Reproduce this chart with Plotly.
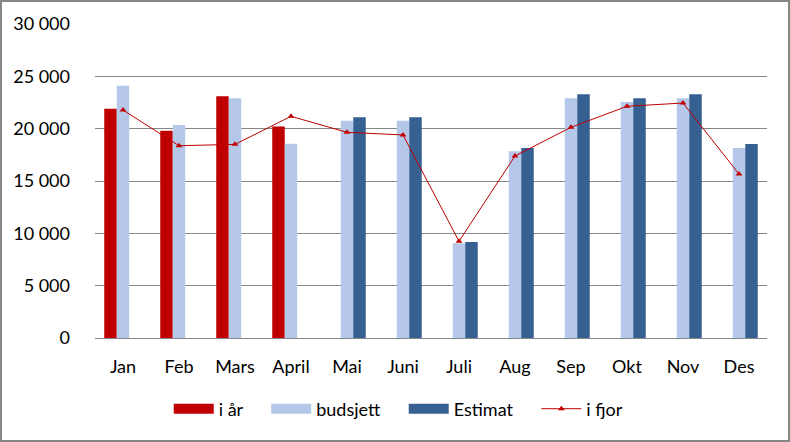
import plotly.graph_objects as go

months = ["Jan", "Feb", "Mars", "April", "Mai", "Juni", "Juli", "Aug", "Sep", "Okt", "Nov", "Des"]
i_aar = [21900, 19800, 23100, 20200, None, None, None, None, None, None, None, None]
budsjett = [24100, 20350, 22900, 18550, 20750, 20750, 9050, 17850, 22900, 22550, 22900, 18150]
estimat = [None, None, None, None, 21100, 21100, 9170, 18150, 23300, 22900, 23300, 18530]
i_fjor = [21780, 18370, 18500, 21180, 19650, 19400, 9240, 17390, 20130, 22140, 22450, 15670]
y_ticks = [0, 5000, 10000, 15000, 20000, 25000, 30000]
y_tick_text = ["0", "5 000", "10 000", "15 000", "20 000", "25 000", "30 000"]

RED = "#C00000"
LIGHT = "#B5C8EA"
DARK = "#376092"

W, H = 790, 442
ml, mr, mt, mb = 95, 23, 24, 104
pw, ph = W - ml - mr, H - mt - mb

fig = go.Figure()
fig.add_trace(go.Bar(name="i år", x=months, y=i_aar, marker=dict(color=RED, line=dict(width=0)),
                     showlegend=False))
fig.add_trace(go.Bar(name="budsjett", x=months, y=budsjett, marker=dict(color=LIGHT, line=dict(width=0)),
                     showlegend=False))
fig.add_trace(go.Bar(name="Estimat", x=months, y=estimat, marker=dict(color=DARK, line=dict(width=0)),
                     showlegend=False))
fig.add_trace(go.Scatter(name="i fjor", x=months, y=i_fjor, mode="lines+markers",
                         line=dict(color=RED, width=1),
                         marker=dict(symbol="triangle-up", size=6, color=RED),
                         showlegend=False))

# legend-only entries (wide swatches like the original)
pad = "\u00a0" * 4
for name, col in [("i år", RED), ("budsjett", LIGHT), ("Estimat", DARK)]:
    fig.add_trace(go.Scatter(name=name + pad, x=[None], y=[None], mode="lines",
                             line=dict(color=col, width=11), showlegend=True))
fig.add_trace(go.Scatter(name="i fjor", x=[None], y=[None], mode="lines+markers",
                         line=dict(color=RED, width=1),
                         marker=dict(symbol="triangle-up", size=6, color=RED), showlegend=True))

fig.update_layout(
    width=W, height=H,
    margin=dict(l=ml, r=mr, t=mt, b=mb, autoexpand=False),
    paper_bgcolor="white", plot_bgcolor="white",
    barmode="group", bargap=0.33, bargroupgap=0,
    font=dict(family="Lato, Carlito, sans-serif", size=18, color="black"),
    showlegend=True,
    legend=dict(orientation="h", x=0.452, xanchor="center", y=(338 - 409) / ph, yanchor="middle",
                font=dict(size=18), traceorder="normal", itemwidth=40, tracegroupgap=0),
    xaxis=dict(type="category", categoryorder="array", categoryarray=months,
               range=[-0.5, len(months) - 0.5], autorange=False,
               showgrid=False, showline=True, linecolor="#868686", linewidth=1,
               ticks="", ticklabelstandoff=12, tickfont=dict(size=18)),
    yaxis=dict(range=[0, 30000], tickvals=y_ticks, ticktext=y_tick_text,
               showgrid=True, gridcolor="#868686", gridwidth=1, showline=False,
               zeroline=False, ticks="", ticklabelstandoff=24, tickfont=dict(size=18)),
    shapes=[dict(type="rect", xref="paper", yref="paper",
                 x0=(1 - ml) / pw, x1=(W - 1 - ml) / pw,
                 y0=-(H - 1 - mt - ph) / ph, y1=(ph + mt - 1) / ph,
                 line=dict(color="#868686", width=2), fillcolor="rgba(0,0,0,0)", layer="above")],
)

fig.write_html("out.html", config={"displayModeBar": False},
               post_script="document.body.style.margin='0';document.body.style.overflow='hidden';")
